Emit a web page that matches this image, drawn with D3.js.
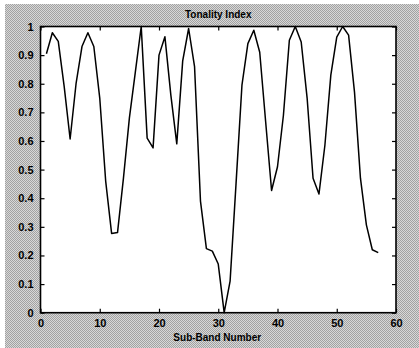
<!DOCTYPE html>
<html>
<head>
<meta charset="utf-8">
<script src="https://cdn.jsdelivr.net/npm/d3@7"></script>
<style>
html,body{margin:0;padding:0;background:#fff;}
svg{display:block;}
text{font-family:Arial,"Liberation Sans",sans-serif;fill:#000;}
</style>
</head>
<body>
<svg id="chart" width="419" height="348"></svg>
<script>
// Data
const subBands = [1,2,3,4,5,6,7,8,9,10,11,12,13,14,15,16,17,18,19,20,21,22,23,24,25,26,27,28,29,30,31,32,33,34,35,36,37,38,39,40,41,42,43,44,45,46,47,48,49,50,51,52,53,54,55,56,57];
const tonality = [0.905,0.978,0.948,0.79,0.607,0.80,0.93,0.978,0.93,0.75,0.46,0.277,0.28,0.47,0.68,0.84,1.0,0.61,0.576,0.90,0.964,0.76,0.59,0.88,0.993,0.86,0.39,0.224,0.215,0.17,0.0,0.11,0.45,0.795,0.94,0.987,0.91,0.667,0.427,0.51,0.69,0.952,1.0,0.946,0.75,0.47,0.415,0.585,0.83,0.963,1.0,0.97,0.77,0.47,0.307,0.22,0.21];
const xTicks = [0,10,20,30,40,50,60];
const yTicks = [0,0.1,0.2,0.3,0.4,0.5,0.6,0.7,0.8,0.9,1];
const yTickLabels = ["0","0.1","0.2","0.3","0.4","0.5","0.6","0.7","0.8","0.9","1"];
const titleText = "Tonality Index";
const xLabelText = "Sub-Band Number";

const svg = d3.select("#chart");
const W = 419, H = 348;
const m = {left:40.5, right:396, top:26.5, bottom:312.7};

// dithered grey background
const defs = svg.append("defs");
const pat = defs.append("pattern").attr("id","dither").attr("width",2).attr("height",2).attr("patternUnits","userSpaceOnUse");
pat.append("rect").attr("width",2).attr("height",2).attr("fill","#d8d8d8");
pat.append("rect").attr("x",0).attr("y",0).attr("width",1).attr("height",1).attr("fill","#a2a2a2");
pat.append("rect").attr("x",1).attr("y",1).attr("width",1).attr("height",1).attr("fill","#a2a2a2");
svg.append("rect").attr("x",5).attr("y",4).attr("width",W-5).attr("height",H-4).attr("fill","url(#dither)");

const x = d3.scaleLinear().domain([0,60]).range([m.left,m.right]);
const y = d3.scaleLinear().domain([0,1]).range([m.bottom,m.top]);

// plot area
svg.append("rect").attr("x",m.left).attr("y",m.top).attr("width",m.right-m.left).attr("height",m.bottom-m.top).attr("fill","#fff");

// line
const data = subBands.map((d,i)=>({x:d,y:tonality[i]}));
svg.append("path").datum(data)
  .attr("fill","none").attr("stroke","#000").attr("stroke-width",1.5).attr("stroke-linejoin","round")
  .attr("d", d3.line().x(d=>x(d.x)).y(d=>y(d.y)));

// axes (inward ticks, MATLAB style)
const ax = svg.append("g").attr("class","axes");
const xAxisB = d3.axisBottom(x).tickValues(xTicks).tickSize(-4).tickPadding(7).tickFormat(d3.format("d"));
const gxb = ax.append("g").attr("transform",`translate(0,${m.bottom})`).call(xAxisB);
const xAxisT = d3.axisTop(x).tickValues(xTicks).tickSize(-4).tickFormat("");
const gxt = ax.append("g").attr("transform",`translate(0,${m.top})`).call(xAxisT);
const yAxisL = d3.axisLeft(y).tickValues(yTicks).tickSize(-4).tickPadding(7).tickFormat((d,i)=>yTickLabels[i]);
const gyl = ax.append("g").attr("transform",`translate(${m.left},0)`).call(yAxisL);
const yAxisR = d3.axisRight(y).tickValues(yTicks).tickSize(-4).tickFormat("");
const gyr = ax.append("g").attr("transform",`translate(${m.right},0)`).call(yAxisR);
[gxb,gxt,gyl,gyr].forEach(g=>{
  g.select(".domain").remove();
  g.selectAll(".tick line").attr("stroke","#000").attr("stroke-width",1.2);
  g.selectAll(".tick text").attr("font-size",11).attr("font-family","Arial,'Liberation Sans',sans-serif").attr("fill","#000").attr("font-weight","bold");
});
gxb.selectAll(".tick text").attr("dy","0.71em");

// box
svg.append("rect").attr("x",m.left).attr("y",m.top).attr("width",m.right-m.left).attr("height",m.bottom-m.top)
  .attr("fill","none").attr("stroke","#000").attr("stroke-width",1.6);

// title & label
svg.append("text").attr("x",(m.left+m.right)/2).attr("y",18).attr("text-anchor","middle")
  .attr("font-size",10).attr("font-weight","bold").text(titleText);
svg.append("text").attr("x",(m.left+m.right)/2 - 1).attr("y",341).attr("text-anchor","middle")
  .attr("font-size",10).attr("font-weight","bold").text(xLabelText);
</script>
</body>
</html>
